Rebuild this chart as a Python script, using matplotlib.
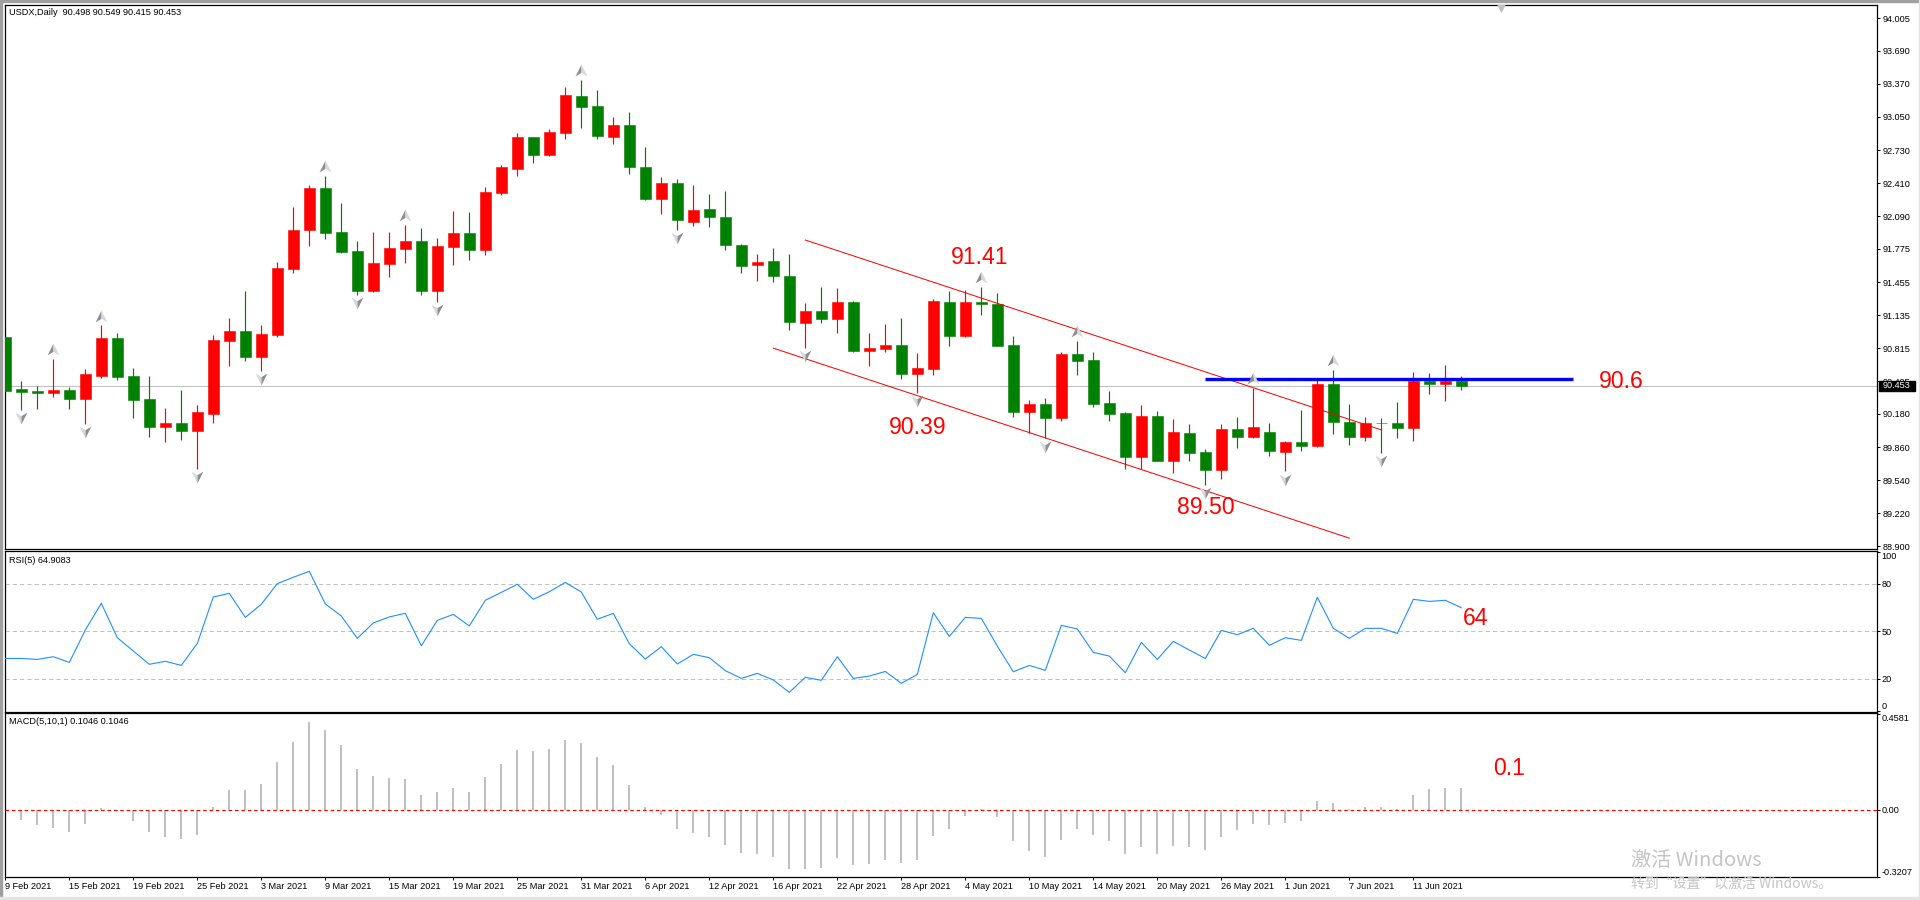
import numpy as np
import matplotlib
matplotlib.use('Agg')
import matplotlib.pyplot as plt
from matplotlib.path import Path
from matplotlib.patches import Rectangle

# USDX daily candles
opens = [90.924, 90.420, 90.403, 90.386, 90.413, 90.327, 90.548, 90.918, 90.548, 90.327, 90.054, 90.096,
         90.016, 90.182, 90.886, 90.983, 90.731, 90.945, 91.584, 91.961, 92.368, 91.940, 91.757, 91.370,
         91.633, 91.778, 91.854, 91.370, 91.795, 91.933, 91.767, 92.320, 92.551, 92.859, 92.686, 92.900,
         93.256, 93.159, 92.859, 92.976, 92.570, 92.260, 92.412, 92.038, 92.164, 92.086, 91.815, 91.615,
         91.661, 91.515, 91.055, 91.177, 91.093, 91.264, 90.793, 90.809, 90.848, 90.571, 90.619, 91.264,
         90.929, 91.264, 91.245, 90.848, 90.203, 90.278, 90.145, 90.761, 90.703, 90.287, 90.190, 89.768,
         90.161, 89.729, 89.997, 89.813, 89.642, 90.036, 89.962, 90.007, 89.816, 89.909, 89.871, 90.472,
         90.102, 89.954, 90.096, 90.096, 90.040, 90.500, 90.472, 90.498]
highs = [90.955, 90.496, 90.451, 90.714, 90.437, 90.617, 91.035, 90.966, 90.627, 90.548, 90.241, 90.413,
         90.268, 90.945, 91.111, 91.370, 91.042, 91.650, 92.182, 92.392, 92.482, 92.223, 91.854, 91.940,
         91.940, 92.009, 91.981, 91.885, 92.144, 92.133, 92.375, 92.589, 92.900, 92.859, 92.935, 93.335,
         93.411, 93.315, 93.052, 93.094, 92.763, 92.473, 92.454, 92.396, 92.309, 92.338, 91.825, 91.728,
         91.786, 91.728, 91.254, 91.409, 91.399, 91.270, 90.964, 91.051, 91.109, 90.771, 91.290, 91.370,
         91.380, 91.409, 91.351, 90.935, 90.316, 90.336, 90.780, 90.887, 90.780, 90.403, 90.200, 90.268,
         90.210, 90.132, 90.084, 89.842, 90.084, 90.152, 90.429, 90.094, 89.916, 90.220, 90.531, 90.607,
         90.279, 90.151, 90.144, 90.296, 90.586, 90.579, 90.655, 90.549]
lows = [90.393, 90.220, 90.230, 90.344, 90.230, 90.085, 90.531, 90.510, 90.144, 89.957, 89.909, 89.930,
        89.650, 90.096, 90.645, 90.693, 90.596, 90.924, 91.546, 91.805, 91.874, 91.740, 91.332, 91.360,
        91.505, 91.643, 91.332, 91.263, 91.622, 91.670, 91.719, 92.299, 92.482, 92.610, 92.676, 92.841,
        92.948, 92.841, 92.793, 92.503, 92.244, 92.109, 91.960, 91.993, 91.983, 91.761, 91.538, 91.461,
        91.451, 90.996, 90.822, 91.055, 90.967, 90.774, 90.648, 90.774, 90.522, 90.387, 90.561, 90.832,
        90.919, 91.141, 90.841, 90.155, 90.000, 89.945, 90.116, 90.552, 90.252, 90.116, 89.652, 89.646,
        89.729, 89.613, 89.726, 89.497, 89.555, 89.855, 89.952, 89.778, 89.626, 89.826, 89.857, 89.989,
        89.881, 89.919, 89.805, 89.950, 89.919, 90.375, 90.306, 90.415]
closes = [90.403, 90.393, 90.386, 90.413, 90.327, 90.569, 90.918, 90.538, 90.316, 90.054, 90.096, 90.016,
          90.199, 90.897, 90.983, 90.731, 90.955, 91.594, 91.961, 92.368, 91.933, 91.747, 91.370, 91.643,
          91.788, 91.854, 91.370, 91.805, 91.933, 91.767, 92.327, 92.562, 92.859, 92.686, 92.907, 93.266,
          93.149, 92.869, 92.976, 92.562, 92.260, 92.412, 92.051, 92.154, 92.080, 91.809, 91.606, 91.651,
          91.509, 91.064, 91.177, 91.093, 91.264, 90.793, 90.819, 90.848, 90.571, 90.626, 91.274, 90.929,
          91.264, 91.238, 90.841, 90.203, 90.278, 90.145, 90.761, 90.687, 90.281, 90.184, 89.768, 90.161,
          89.729, 90.007, 89.807, 89.642, 90.036, 89.962, 90.055, 89.826, 89.909, 89.871, 90.472, 90.099,
          89.954, 90.096, 90.089, 90.040, 90.500, 90.472, 90.500, 90.453]

rsi = [32.9, 32.9, 32.3, 34.0, 30.4, 50.8, 67.7, 46.0, 37.6, 29.2, 31.1, 28.5, 42.4, 71.7, 74.0, 58.8,
       67.1, 80.1, 84.1, 87.9, 67.3, 59.7, 45.6, 55.3, 59.1, 61.4, 40.9, 56.9, 60.7, 53.4, 69.6, 74.6,
       79.7, 70.2, 75.0, 80.9, 74.8, 57.6, 61.4, 42.2, 32.5, 40.3, 29.4, 35.5, 33.4, 25.2, 20.3, 23.5,
       19.3, 11.5, 21.0, 19.1, 34.0, 20.3, 21.8, 24.7, 17.2, 22.8, 61.8, 46.8, 58.8, 58.2, 40.7, 24.5,
       28.5, 25.4, 53.8, 51.5, 36.7, 34.4, 23.9, 43.1, 32.3, 43.7, 38.2, 32.9, 50.6, 47.9, 51.9, 41.2,
       46.0, 44.3, 71.5, 51.9, 45.6, 51.9, 51.9, 48.7, 70.2, 68.9, 69.6, 64.9]

macd = [0.013, -0.046, -0.074, -0.087, -0.103, -0.065, 0.009, -0.006, -0.051, -0.106, -0.131, -0.136,
        -0.117, 0.014, 0.097, 0.097, 0.125, 0.228, 0.324, 0.419, 0.381, 0.308, 0.195, 0.163,
        0.153, 0.149, 0.071, 0.087, 0.104, 0.087, 0.158, 0.220, 0.285, 0.282, 0.290, 0.332,
        0.320, 0.253, 0.214, 0.120, 0.014, -0.022, -0.090, -0.108, -0.127, -0.168, -0.206, -0.212,
        -0.225, -0.282, -0.283, -0.278, -0.231, -0.264, -0.258, -0.236, -0.255, -0.239, -0.122, -0.093,
        -0.030, 0.005, -0.036, -0.149, -0.196, -0.226, -0.141, -0.092, -0.120, -0.146, -0.209, -0.177,
        -0.212, -0.174, -0.177, -0.193, -0.130, -0.097, -0.065, -0.071, -0.063, -0.055, 0.044, 0.035,
        0.005, 0.014, 0.016, 0.006, 0.073, 0.101, 0.106, 0.1046]

up_fractals = [3, 6, 20, 25, 36, 61, 67, 78, 83]
down_fractals = [1, 5, 12, 16, 22, 27, 42, 50, 57, 65, 75, 80, 86]

price_ticks = [94.005, 93.690, 93.370, 93.050, 92.730, 92.410, 92.090, 91.775, 91.455,
               91.135, 90.815, 90.495, 90.180, 89.860, 89.540, 89.220, 88.900]
rsi_ticks = [0, 20, 50, 80, 100]
date_ticks = [0, 4, 8, 12, 16, 20, 24, 28, 32, 36, 40, 44, 48, 52, 56, 60, 64, 68, 72, 76, 80, 84, 88]
date_labels = ['9 Feb 2021', '15 Feb 2021', '19 Feb 2021', '25 Feb 2021', '3 Mar 2021', '9 Mar 2021',
               '15 Mar 2021', '19 Mar 2021', '25 Mar 2021', '31 Mar 2021', '6 Apr 2021', '12 Apr 2021',
               '16 Apr 2021', '22 Apr 2021', '28 Apr 2021', '4 May 2021', '10 May 2021', '14 May 2021',
               '20 May 2021', '26 May 2021', '1 Jun 2021', '7 Jun 2021', '11 Jun 2021']

channel_top_x = [50, 86]
channel_top_y = [91.861, 90.026]
channel_bot_x = [48, 84]
channel_bot_y = [90.816, 88.980]
resistance_x = [75, 98]
resistance_y = [90.517, 90.517]
last_price = 90.453

W, H = 1920, 900
TXT = 'Liberation Sans'
SMALL = 6.6
plt.rcParams['font.family'] = [TXT, 'DejaVu Sans']


def add_panel(fig, top, bottom):
    ax = fig.add_axes([4.5 / W, 1 - bottom / H, (1877.5 - 4.5) / W, (bottom - top) / H])
    ax.set_xlim(-0.05, 117.01)
    ax.yaxis.tick_right()
    for s in ax.spines.values():
        s.set_linewidth(0.9)
        s.set_color('black')
    ax.set_xticks([])
    return ax


def half_marker(pts):
    return Path(pts + [pts[0]], closed=True)


fig = plt.figure(figsize=(W / 100, H / 100), dpi=100, facecolor='white')

# window borders
fig.add_artist(Rectangle((0, 1 - 2 / H), 1, 2 / H, transform=fig.transFigure, color='#a0a0a0'))
fig.add_artist(Rectangle((0, 0), 2 / W, 1, transform=fig.transFigure, color='#a0a0a0'))
fig.add_artist(Rectangle((0, 0), 1, 3 / H, transform=fig.transFigure, color='#e4e4e4'))
fig.add_artist(Rectangle((1 - 1 / W, 0), 1 / W, 1, transform=fig.transFigure, color='#e4e4e4'))

# price panel
ax = add_panel(fig, 4.5, 549)
ax.set_ylim(88.875, 94.137)
x = np.arange(len(closes))
o = np.array(opens)
c = np.array(closes)
colors = ['#ff0000' if c[i] >= o[i] else '#008000' for i in x]
ax.axhline(last_price, color='#c0c0c0', lw=0.75, zorder=1)
ax.vlines(x, lows, highs, colors=colors, lw=0.85, zorder=2)
ax.bar(x, np.abs(c - o), bottom=np.minimum(o, c), width=0.69, color=colors, edgecolor=colors,
       linewidth=0.4, zorder=3)

ax.plot(channel_top_x, channel_top_y, color='#ff0000', lw=0.72, zorder=4)
ax.plot(channel_bot_x, channel_bot_y, color='#ff0000', lw=0.72, zorder=4)
ax.plot(resistance_x, resistance_y, color='#0000ff', lw=2.4, solid_capstyle='butt', zorder=4)

# fractal arrows, two tone
up_l = half_marker([(0, .5), (-.5, -.5), (0, -.2)])
up_r = half_marker([(0, .5), (.5, -.5), (0, -.2)])
dn_l = half_marker([(0, -.5), (-.5, .5), (0, .2)])
dn_r = half_marker([(0, -.5), (.5, .5), (0, .2)])
ux = np.array(up_fractals)
dx = np.array(down_fractals)
uy = np.array(highs)[ux] + 0.095
dy = np.array(lows)[dx] - 0.08
ax.scatter(ux, uy, marker=up_l, s=72, color='#8e8e8e', linewidths=0, zorder=5)
ax.scatter(ux, uy, marker=up_r, s=72, color='#d4d8e0', linewidths=0, zorder=5)
ax.scatter(dx, dy, marker=dn_l, s=72, color='#d4d8e0', linewidths=0, zorder=5)
ax.scatter(dx, dy, marker=dn_r, s=72, color='#8e8e8e', linewidths=0, zorder=5)
# chart shift mark on top edge
ax.scatter([93.5], [94.115], marker='v', s=70, color='#c0c0c0', linewidths=0, zorder=5)

ax.set_yticks(price_ticks)
ax.set_yticklabels(['%.3f' % v for v in price_ticks])
ax.tick_params(axis='y', length=2.2, width=0.75, pad=1.8, labelsize=SMALL)

ax.add_patch(Rectangle((1.0008, last_price - 0.048), 0.0192, 0.096, transform=ax.get_yaxis_transform(),
                       color='black', clip_on=False, zorder=10))
ax.text(1.0028, last_price, '%.3f' % last_price, transform=ax.get_yaxis_transform(), color='white',
        fontsize=SMALL, va='center', ha='left', zorder=11)

ax.text(0.0024, 0.9855, 'USDX,Daily  90.498 90.549 90.415 90.453', transform=ax.transAxes,
        fontsize=SMALL, va='center', ha='left', color='black')
red_big = dict(color='#ff0000', fontsize=16.6, ha='center', va='center')
ax.text(60.9, 91.693, '91.41', **red_big)
ax.text(57.0, 90.046, '90.39', **red_big)
ax.text(75.0, 89.272, '89.50', **red_big)
ax.text(101.0, 90.491, '90.6', **red_big)

# RSI panel
ax2 = add_panel(fig, 551, 711.7)
ax2.set_ylim(-0.7, 100.7)
for lev in [20, 50, 80]:
    ax2.axhline(lev, color='#c0c0c0', lw=0.75, dashes=(4, 3), zorder=1)
ax2.plot(x, rsi, color='#1e90ff', lw=0.8, zorder=3)
ax2.set_yticks(rsi_ticks)
ax2.set_yticklabels([str(v) for v in rsi_ticks])
ax2.tick_params(axis='y', length=2.2, width=0.75, pad=0.6, labelsize=SMALL)
ax2.get_yticklabels()[0].set_va('bottom')
ax2.get_yticklabels()[-1].set_va('top')
ax2.text(0.0024, 0.942, 'RSI(5) 64.9083', transform=ax2.transAxes, fontsize=SMALL, va='center', ha='left')
ax2.text(91.9, 58.2, '64', **red_big)

# MACD panel
ax3 = add_panel(fig, 713.3, 877.3)
ax3.set_ylim(-0.318, 0.460)
ax3.vlines(x, 0, macd, colors='#c0c0c0', lw=1.45, zorder=2)
ax3.axhline(0, color='#ff0000', lw=0.85, dashes=(3, 2.4), zorder=3)
ax3.set_yticks([-0.3207, 0, 0.4581])
ax3.set_yticklabels(['-0.3207', '0.00', '0.4581'])
ax3.tick_params(axis='y', length=2.2, width=0.75, pad=0.6, labelsize=SMALL)
ax3.get_yticklabels()[0].set_va('bottom')
ax3.get_yticklabels()[-1].set_va('top')
ax3.set_xticks(date_ticks)
ax3.set_xticklabels(date_labels, ha='left')
ax3.tick_params(axis='x', length=2.4, width=0.75, pad=0.8, labelsize=SMALL)
ax3.text(0.0024, 0.9495, 'MACD(5,10,1) 0.1046 0.1046', transform=ax3.transAxes, fontsize=SMALL,
         va='center', ha='left')
ax3.text(94.0, 0.195, '0.1', **red_big)

# windows watermark on top of everything
cjk = ['Noto Sans CJK SC', 'DejaVu Sans']
fig.text(1631 / W, 1 - 860 / H, '激活 Windows', family=cjk, fontsize=14.5, color='#c4c4c4', va='center', ha='left')
fig.text(1631 / W, 1 - 884 / H, '转到“设置”以激活 Windows。', family=cjk, fontsize=10, color='#c4c4c4',
         va='center', ha='left')

fig.savefig('out.png', dpi=100, facecolor='white')
